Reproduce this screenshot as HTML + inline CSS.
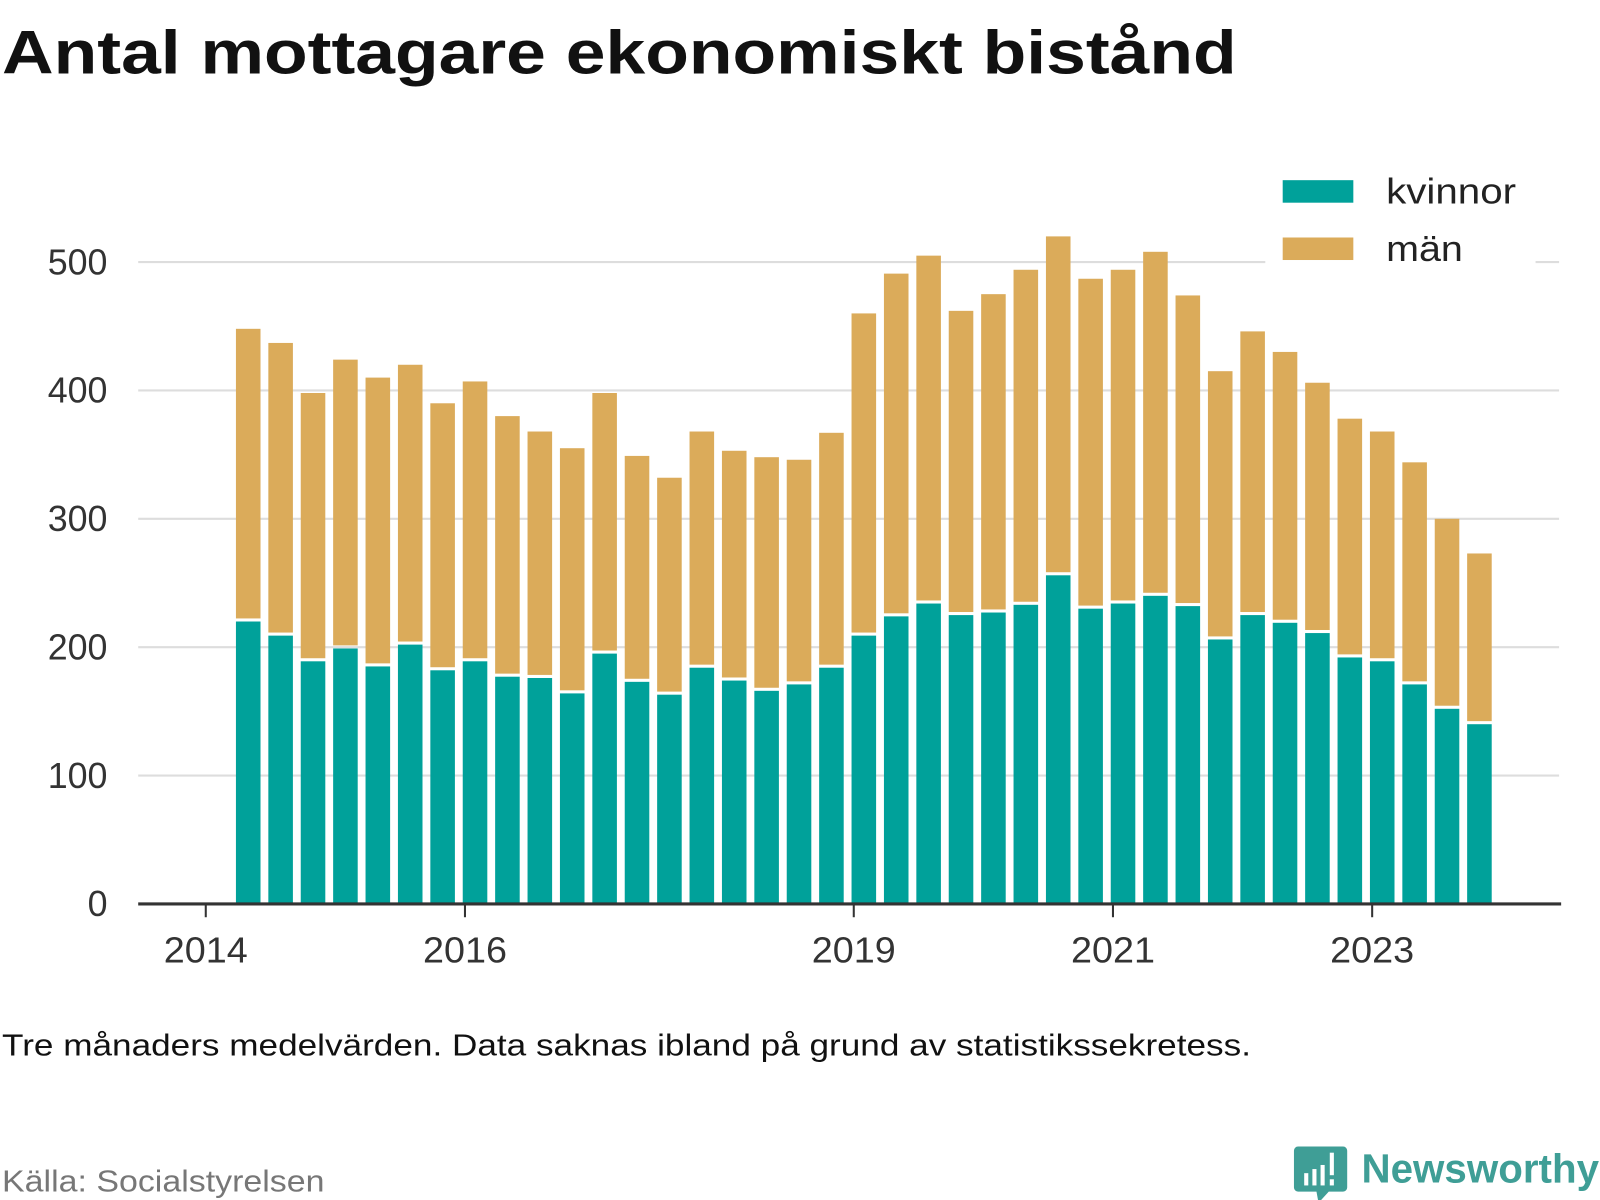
<!DOCTYPE html>
<html><head><meta charset="utf-8"><style>
html,body{margin:0;padding:0;background:#fff;}
svg{display:block;font-family:"Liberation Sans","DejaVu Sans",sans-serif;}
</style></head><body>
<svg id="chart" width="1600" height="1200" viewBox="0 0 1600 1200" xmlns="http://www.w3.org/2000/svg">
<g transform="scale(1.0237)">
<text x="2" y="72" font-size="60" font-weight="bold" fill="#111" textLength="1206" lengthAdjust="spacingAndGlyphs">Antal mottagare ekonomiskt bistånd</text>
<g id="grid"></g>
<g id="bars"></g>
<g id="axes"></g>
<rect x="1236" y="250" width="264" height="12" fill="#fff"/>
<g>
<g><rect x="1253" y="176" width="69" height="22" fill="#00a19a"/><text x="1354" y="199" font-size="35" fill="#222" textLength="127" lengthAdjust="spacingAndGlyphs">kvinnor</text></g>
<g><rect x="1253" y="232" width="69" height="22" fill="#dbab5a"/><text x="1354" y="255" font-size="35" fill="#222" textLength="75" lengthAdjust="spacingAndGlyphs">män</text></g>
</g>
<text x="2" y="1031" font-size="30" fill="#111" textLength="1220" lengthAdjust="spacingAndGlyphs">Tre månaders medelvärden. Data saknas ibland på grund av statistikssekretess.</text>
<text x="2" y="1164" font-size="30" fill="#777" textLength="315" lengthAdjust="spacingAndGlyphs">Källa: Socialstyrelsen</text>
<g>
<path d="M1268 1120 h44 a4 4 0 0 1 4 4 v36 a4 4 0 0 1 -4 4 h-14 l-10 11 l-2 -11 h-18 a4 4 0 0 1 -4 -4 v-36 a4 4 0 0 1 4 -4z" fill="#3f9e96"/>
<rect x="1274" y="1146" width="4" height="12" fill="#fff"/><rect x="1282" y="1142" width="4" height="16" fill="#fff"/><rect x="1290" y="1138" width="4" height="20" fill="#fff"/><rect x="1299" y="1126" width="4" height="22" fill="#fff"/><rect x="1299" y="1152" width="4" height="6" fill="#fff"/>
<text x="1330" y="1155" font-size="40" font-weight="bold" fill="#3f9e96" textLength="232" lengthAdjust="spacingAndGlyphs">Newsworthy</text>
</g>
</g>
</svg>
<script>
const totals=[448,437,398,424,410,420,390,407,380,368,355,398,349,332,368,353,348,346,367,460,491,505,462,475,494,520,487,494,508,474,415,446,430,406,378,368,344,300,273];
const women=[220,209,189,199,185,202,182,189,177,176,164,195,173,163,184,174,166,171,184,209,224,234,225,227,233,256,230,234,240,232,206,225,219,211,192,189,171,152,140];
const yTicks=[0,100,200,300,400,500];
const xTickYears=[2014,2016,2019,2021,2023];
const startYear=2014.25;
const NS="http://www.w3.org/2000/svg";
const y=v=>883-v*1.254;
const x=t=>201+(t-2014)*126.6;
function mk(tag,attrs,parent){const e=document.createElementNS(NS,tag);for(const k in attrs)e.setAttribute(k,attrs[k]);parent.appendChild(e);return e;}
const grid=document.getElementById('grid'),bars=document.getElementById('bars'),axes=document.getElementById('axes');
yTicks.forEach(v=>{
 if(v>0){const l=mk('line',{x1:135,x2:1523,y1:y(v),y2:y(v),stroke:'#ddd','stroke-width':2},grid);
 
 }
 const t=mk('text',{x:105,y:y(v)+12,'font-size':35,fill:'#333','text-anchor':'end'},grid);t.textContent=v;
 
 
});
totals.forEach((tot,i)=>{
 const cx=x(startYear+i*0.25+0.125)-6;const w=24;
 const wv=women[i];
 const r1=mk('rect',{x:cx-w/2,y:y(wv),width:w,height:y(0)-y(wv),fill:'#00a19a'},bars);
 
 
 const r2=mk('rect',{x:cx-w/2,y:y(tot),width:w,height:y(wv)-y(tot)-3,fill:'#dbab5a'},bars);
 
 
});
const ax=mk('line',{x1:135,x2:1525,y1:883,y2:883,stroke:'#333','stroke-width':3},axes);


xTickYears.forEach(yr=>{
 const tk=mk('line',{x1:x(yr),x2:x(yr),y1:883,y2:896,stroke:'#333','stroke-width':2},axes);
 
 
 const t=mk('text',{x:x(yr),y:940,'font-size':35,fill:'#333','text-anchor':'middle',textLength:82,lengthAdjust:'spacingAndGlyphs'},axes);t.textContent=yr;
 
 
});
</script>
</body></html>
